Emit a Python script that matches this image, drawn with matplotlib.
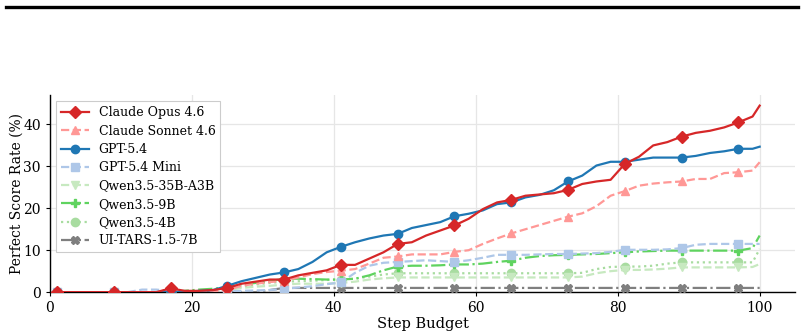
import numpy as np
import matplotlib
matplotlib.use('Agg')
from matplotlib import pyplot as plt
from matplotlib.lines import Line2D

plt.rcParams.update({
    'font.family': 'DejaVu Serif',
    'font.size': 10,
    'axes.linewidth': 1.0,
    'grid.color': '#e6e6e6',
    'grid.linewidth': 0.9,
})

# step budget (odd steps + the final step)
steps = list(range(1, 100, 2)) + [100]

opus = [0, 0, 0, 0, 0, 0, 0, 0, 0.9, 0.3, 0.3, 0.5, 1.0, 2.0, 2.5, 3.0, 3.0, 4.0, 4.6, 5.2,
        6.5, 6.5, 8.0, 9.5, 11.5, 11.9, 13.5, 14.7, 15.9, 17.5, 19.8, 21.4, 22.0, 23.0, 23.3,
        23.6, 24.4, 25.8, 26.4, 26.8, 30.6, 32.3, 35.0, 35.8, 37.1, 38.0, 38.5, 39.3, 40.5,
        41.9, 44.5]
sonnet = [0, 0, 0, 0, 0, 0, 0, 0, 0, 0, 0.1, 0.2, 0.5, 1.5, 2.0, 2.4, 2.7, 3.5, 4.3, 4.8,
          5.1, 5.5, 6.8, 8.2, 8.5, 9.0, 9.0, 9.0, 9.6, 10.0, 11.5, 12.8, 14.0, 15.0, 16.0,
          17.0, 18.0, 18.8, 20.5, 23.0, 24.1, 25.4, 25.9, 26.2, 26.4, 27.0, 27.0, 28.4, 28.6,
          29.0, 31.0]
gpt54 = [0, 0, 0, 0, 0, 0, 0, 0, 0, 0, 0.3, 0.5, 1.5, 2.6, 3.4, 4.2, 4.7, 5.5, 7.2, 9.5,
         10.8, 11.9, 12.8, 13.5, 13.9, 15.3, 16.0, 16.7, 18.1, 18.7, 19.5, 21.0, 21.4, 22.6,
         23.2, 24.3, 26.4, 27.8, 30.2, 31.1, 31.1, 31.6, 32.1, 32.1, 32.1, 32.5, 33.2, 33.6,
         34.2, 34.2, 34.7]
gpt54_mini = [0, 0, 0, 0, 0, 0, 0.6, 0.6, 0.3, 0, 0, 0, 0.2, 0.3, 0.4, 0.5, 0.8, 1.1, 1.4,
              1.9, 2.3, 4.6, 6.3, 7.0, 7.2, 7.4, 7.6, 7.4, 7.2, 7.6, 8.2, 8.9, 8.9, 8.9, 9.0,
              9.1, 9.1, 9.2, 9.3, 9.6, 10.1, 10.1, 10.1, 10.2, 10.5, 11.3, 11.5, 11.5, 11.5,
              11.5, 11.5]
qwen_35b = [0, 0, 0, 0, 0, 0, 0, 0, 0, 0, 0, 0.2, 0.5, 1.0, 1.3, 1.5, 1.8, 2.0, 2.0, 2.0,
            2.2, 2.5, 3.0, 3.3, 3.5, 3.5, 3.5, 3.5, 3.5, 3.5, 3.5, 3.5, 3.5, 3.5, 3.5, 3.5,
            3.5, 3.7, 4.5, 5.0, 5.3, 5.3, 5.4, 5.6, 5.9, 5.9, 5.9, 5.9, 5.9, 6.0, 6.7]
qwen_9b = [0, 0, 0, 0, 0, 0, 0, 0, 0, 0.3, 0.6, 0.8, 1.2, 1.8, 2.2, 2.6, 3.2, 3.2, 3.1, 3.0,
           3.0, 3.2, 4.0, 5.2, 6.1, 6.3, 6.3, 6.4, 6.6, 6.6, 6.8, 7.2, 7.5, 8.2, 8.6, 8.8,
           8.9, 9.0, 9.1, 9.3, 9.5, 9.7, 9.8, 9.9, 9.9, 9.9, 9.9, 9.9, 9.9, 10.5, 13.5]
qwen_4b = [0, 0, 0, 0, 0, 0, 0, 0, 0, 0, 0, 0.4, 0.8, 1.3, 1.8, 2.2, 2.5, 2.6, 2.7, 2.9,
           3.0, 3.2, 3.7, 4.2, 4.5, 4.5, 4.5, 4.5, 4.5, 4.5, 4.5, 4.5, 4.5, 4.5, 4.5, 4.5,
           4.5, 4.6, 5.5, 6.0, 6.1, 6.1, 6.3, 6.8, 7.1, 7.1, 7.1, 7.1, 7.1, 7.1, 10.3]
ui_tars = [0, 0, 0, 0, 0, 0, 0, 0, 0, 0, 0, 0, 0, 0, 0, 0.5, 1.0, 1.0, 1.0, 1.0,
           1.0, 1.0, 1.0, 1.0, 1.0, 1.0, 1.0, 1.0, 1.0, 1.0, 1.0, 1.0, 1.0, 1.0, 1.0, 1.0,
           1.0, 1.0, 1.0, 1.0, 1.0, 1.0, 1.0, 1.0, 1.0, 1.0, 1.0, 1.0, 1.0, 1.0, 1.0]

series = [
    ('Claude Opus 4.6', opus, '#d62728', '-', 'D'),
    ('Claude Sonnet 4.6', sonnet, '#ff9896', '--', '^'),
    ('GPT-5.4', gpt54, '#1f77b4', '-', 'o'),
    ('GPT-5.4 Mini', gpt54_mini, '#aec7e8', '--', 's'),
    ('Qwen3.5-35B-A3B', qwen_35b, '#c7e9c0', '--', 'v'),
    ('Qwen3.5-9B', qwen_9b, '#5fd35f', '-.', 'P'),
    ('Qwen3.5-4B', qwen_4b, '#a8dca0', ':', 'o'),
    ('UI-TARS-1.5-7B', ui_tars, '#7f7f7f', '-.', 'X'),
]

fig = plt.figure(figsize=(8.04, 3.35), dpi=100)
ax = fig.add_axes([0.062, 0.128, 0.927, 0.588])

# draw back to front so the strong lines sit on top
for i, (name, vals, col, ls, mk) in reversed(list(enumerate(series))):
    ax.plot(steps, vals, color=col, linestyle=ls, marker=mk, markersize=6,
            markevery=4, linewidth=1.6, label=name, zorder=3 + (8 - i) * 0.01 + (1 if i in (0, 2) else 0))

ax.set_xlim(0, 105)
ax.set_ylim(0, 47)
ax.set_xticks([0, 20, 40, 60, 80, 100])
ax.set_yticks([0, 10, 20, 30, 40])
ax.grid(True, zorder=0)
ax.set_axisbelow(True)
ax.spines['top'].set_visible(False)
ax.spines['right'].set_visible(False)
ax.tick_params(length=3)

ax.set_xlabel('Step Budget', fontsize=10.5, labelpad=1)
ax.set_ylabel('Perfect Score Rate (%)', fontsize=10, labelpad=0)

handles, labels = ax.get_legend_handles_labels()
leg = ax.legend(handles[::-1], labels[::-1], loc='upper left', fontsize=9,
                fancybox=False, edgecolor='#cccccc', framealpha=1.0,
                borderpad=0.4, labelspacing=0.42, handlelength=2.2)
leg.get_frame().set_linewidth(0.8)

# thick rule across the top of the figure
fig.add_artist(Line2D([0.008, 0.992], [0.979, 0.979], color='black', linewidth=2.4))

fig.savefig('out.png', dpi=100)
